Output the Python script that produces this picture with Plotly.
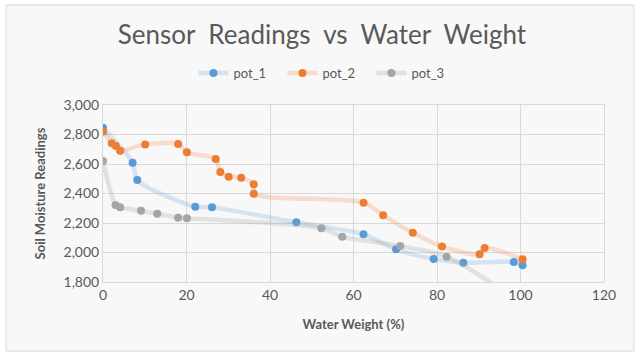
import plotly.graph_objects as go

# water weight (%) and sensor readings for each pot
pot1_x = [0, 7.1, 8.2, 22.1, 26.1, 46.3, 62.4, 70.2, 79.2, 86.3, 98.4, 100.5]
pot1_y = [2845, 2609, 2492, 2310, 2306, 2205, 2123, 2022, 1956, 1931, 1936, 1913]

pot2_x = [0, 2.1, 3.1, 4.1, 10.1, 18.0, 20.1, 27.0, 28.1, 30.1, 33.1, 36.1, 36.1,
          62.4, 67.1, 74.2, 81.2, 90.2, 91.4, 100.5]
pot2_y = [2820, 2740, 2722, 2690, 2733, 2736, 2679, 2634, 2546, 2514, 2507, 2462, 2399,
          2338, 2252, 2134, 2040, 1988, 2031, 1954]

pot3_x = [0, 3.0, 4.1, 9.1, 13.0, 18.0, 20.1, 52.3, 57.3, 71.2, 82.3, 100]
pot3_y = [2620, 2322, 2306, 2283, 2263, 2236, 2232, 2164, 2107, 2044, 1972, 1660]

series = [
    ('pot_1', pot1_x, pot1_y, '#5B9BD5', 'rgba(91,155,213,0.22)'),
    ('pot_2', pot2_x, pot2_y, '#ED7D31', 'rgba(237,125,49,0.22)'),
    ('pot_3', pot3_x, pot3_y, '#A5A5A5', 'rgba(165,165,165,0.28)'),
]

font = 'Lato'
grey = '#595959'

fig = go.Figure()
for name, xs, ys, col, lcol in series:
    fig.add_trace(go.Scatter(x=xs, y=ys, name=name,
                             mode='lines+markers',
                             line=dict(color=lcol, width=4.5, shape='spline', smoothing=0.8),
                             marker=dict(color=col, size=8)))

fig.update_layout(
    width=644, height=357,
    margin=dict(l=103, r=40, t=105, b=75, autoexpand=False),
    paper_bgcolor='white',
    plot_bgcolor='white',
    font=dict(family=font, color=grey, size=13),
    title=dict(text='Sensor  Readings  vs  Water  Weight', x=0.5, xanchor='center',
               y=0.902, yanchor='middle', font=dict(size=26, color=grey)),
    legend=dict(orientation='h', x=0.447, xanchor='center', y=1.181, yanchor='middle',
                itemwidth=30, entrywidth=44,
                font=dict(size=13, color=grey), bgcolor='rgba(0,0,0,0)'),
    showlegend=True,
)

fig.update_xaxes(range=[0, 120], dtick=20, showgrid=True, gridcolor='#D9D9D9',
                 zeroline=False, showline=True, linecolor='#D9D9D9', mirror=True,
                 ticks='', tickfont=dict(size=14, color=grey), automargin=False,
                 title=dict(text='<b>Water Weight (%)</b>', font=dict(size=13, color=grey), standoff=18))
fig.update_yaxes(range=[1800, 3000], dtick=200, tickformat=',', showgrid=True,
                 gridcolor='#D9D9D9', zeroline=False, showline=True, linecolor='#D9D9D9',
                 mirror=True, ticks='', tickfont=dict(size=14, color=grey), automargin=False,
                 title=dict(text='<b>Soil Moisture Readings</b>', font=dict(size=13, color=grey), standoff=14))

# light frame around the whole chart
fig.add_shape(type='rect', xref='paper', yref='paper', x0=-0.1936, x1=1.0599, y0=-0.390, y1=1.565,
              line=dict(color='#D9D9D9', width=1), fillcolor='#F8F8F8', layer='below')

# drop the default page margin so the chart sits at the window's corner
fig.write_html("out.html", config={'displayModeBar': False},
               post_script="document.body.style.margin='0';")
